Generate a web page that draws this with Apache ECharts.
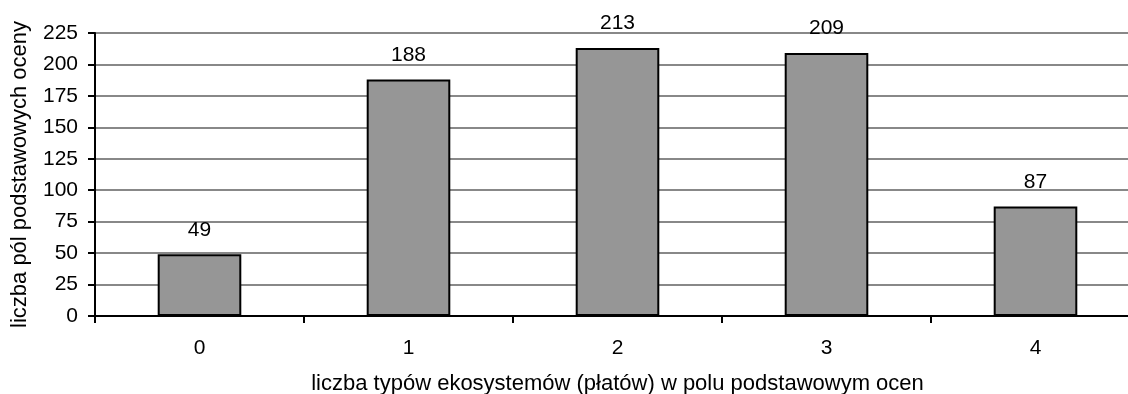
<!DOCTYPE html>
<html>
<head>
<meta charset="utf-8">
<script src="https://cdn.jsdelivr.net/npm/echarts@6/dist/echarts.min.js"></script>
<style>
  html, body { margin: 0; padding: 0; background: #fff; }
  #chart { width: 1128px; height: 394px; }
</style>
</head>
<body>
<div id="chart"></div>
<script>
// Number of ecosystem types (patches) per basic assessment field
const categories = ['0', '1', '2', '3', '4'];
const fieldCounts = [49, 188, 213, 209, 87];
const yTicks = { min: 0, max: 225, interval: 25 };

const xTitle = 'liczba typów ekosystemów (płatów) w polu podstawowym ocen';
const yTitle = 'liczba pól podstawowych oceny';

const FONT = '"Liberation Sans", Arial, sans-serif';

const chart = echarts.init(document.getElementById('chart'), null, { renderer: 'canvas' });

chart.setOption({
  animation: false,
  backgroundColor: '#ffffff',
  textStyle: { fontFamily: FONT, color: '#000' },
  // plot area runs slightly past the right edge of the canvas
  grid: { left: 95, top: 33, width: 1045, height: 283, containLabel: false, outerBoundsMode: 'none' },
  xAxis: {
    type: 'category',
    data: categories,
    boundaryGap: true,
    name: xTitle,
    nameLocation: 'middle',
    nameGap: 57,
    nameTextStyle: { fontFamily: FONT, fontSize: 22, color: '#000' },
    axisLine: { lineStyle: { color: '#000', width: 2 } },
    axisTick: { show: true, length: 7, inside: false, alignWithLabel: false, lineStyle: { color: '#000', width: 2 } },
    axisLabel: { fontFamily: FONT, fontSize: 21, color: '#000', margin: 22 },
    splitLine: { show: false }
  },
  yAxis: {
    type: 'value',
    min: yTicks.min,
    max: yTicks.max,
    interval: yTicks.interval,
    name: yTitle,
    nameLocation: 'middle',
    nameGap: 64,
    nameRotate: 90,
    nameTextStyle: { fontFamily: FONT, fontSize: 22, color: '#000' },
    axisLine: { show: true, lineStyle: { color: '#000', width: 2 } },
    axisTick: { show: true, length: 7, lineStyle: { color: '#000', width: 2 } },
    axisLabel: { fontFamily: FONT, fontSize: 21, color: '#000', margin: 17 },
    splitLine: { show: true, lineStyle: { color: '#888888', width: 2 } }
  },
  series: [{
    type: 'bar',
    data: fieldCounts,
    barWidth: '40%',
    itemStyle: { color: '#969696', borderColor: '#000', borderWidth: 2 },
    label: {
      show: true,
      position: 'top',
      distance: 14,
      fontFamily: FONT,
      fontSize: 21,
      color: '#000'
    }
  }]
});
</script>
</body>
</html>
